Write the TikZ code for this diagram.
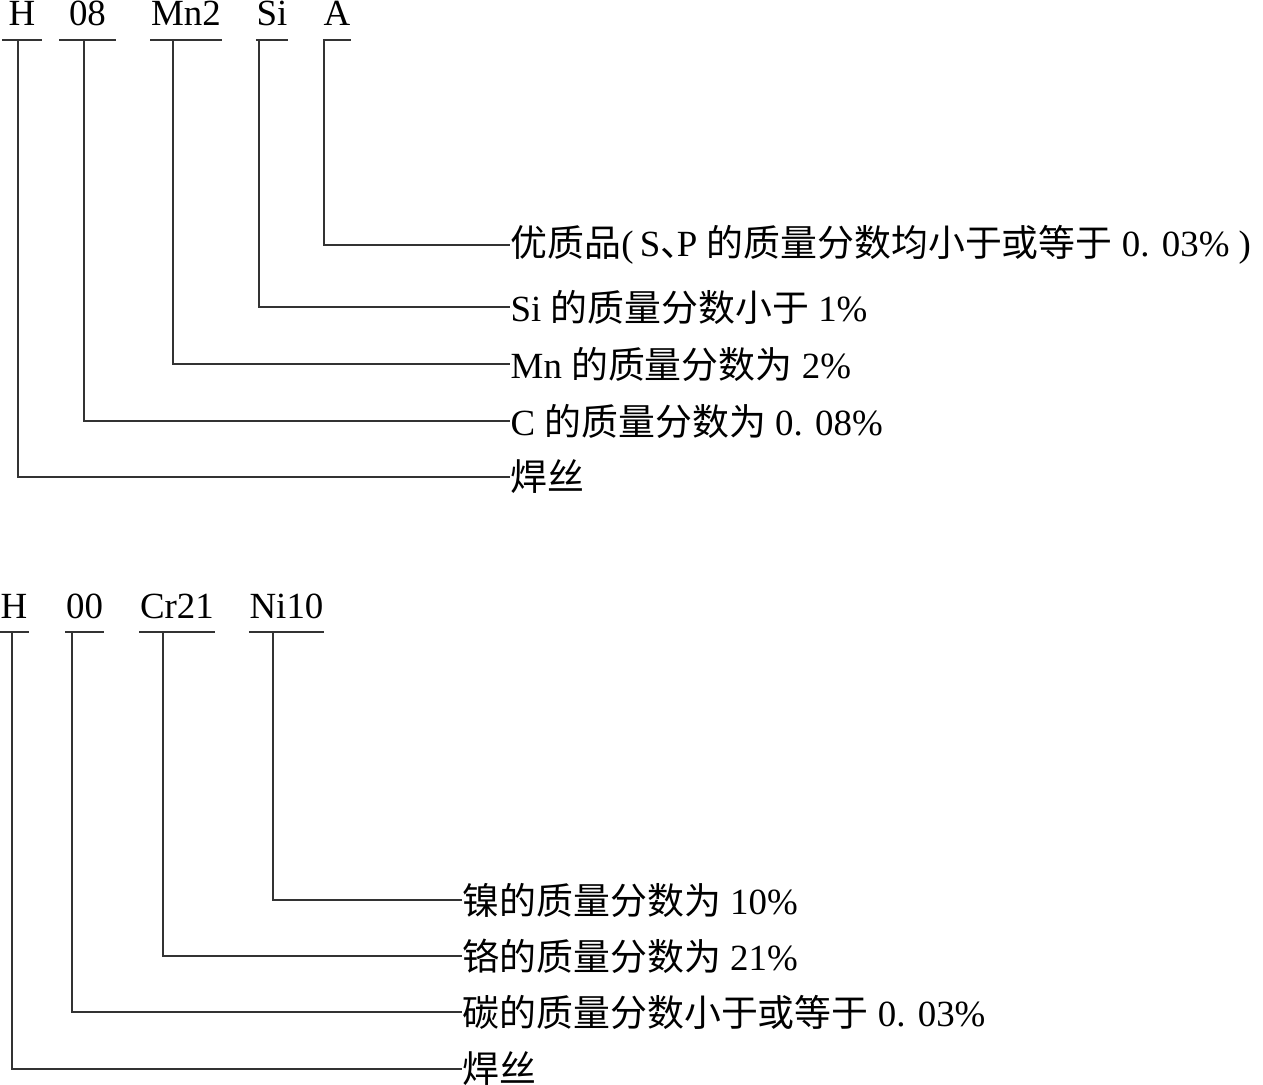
\documentclass[tikz,border=0pt]{standalone}
\usepackage{fontspec}
\setmainfont{Liberation Serif}
\newfontfamily\zh{Noto Sans CJK SC}
\begin{document}
\begin{tikzpicture}[every node/.style={font=\fontsize{10.5}{12}\selectfont, inner sep=0pt},
  code/.style={anchor=base},
  note/.style={anchor=west},
  lead/.style={draw=black!80, line width=0.6pt}]
  \useasboundingbox (0,0) rectangle (12.63,-10.85);

  % Wire H08Mn2SiA
  \node[code, minimum width=0.38cm] (tH)  at (0.22,-0.25) {H};
  \node[code, minimum width=0.55cm] (tC)  at (0.875,-0.25) {08};
  \node[code, minimum width=0.66cm] (tMn) at (1.86,-0.25) {Mn2};
  \node[code, minimum width=0.30cm] (tSi) at (2.72,-0.25) {Si};
  \node[code, minimum width=0.26cm] (tA)  at (3.37,-0.25) {A};
  \draw[lead] ([yshift=-1.5mm]tH.base west)  -- ([yshift=-1.5mm]tH.base east);
  \draw[lead] ([yshift=-1.5mm]tC.base west)  -- ([yshift=-1.5mm]tC.base east);
  \draw[lead] ([yshift=-1.5mm]tMn.base west) -- ([yshift=-1.5mm]tMn.base east);
  \draw[lead] ([yshift=-1.5mm]tSi.base west) -- ([yshift=-1.5mm]tSi.base east);
  \draw[lead] ([yshift=-1.5mm]tA.base west)  -- ([yshift=-1.5mm]tA.base east);

  \node[note] (nA)  at (5.10,-2.45)
    {{\zh 优质品}(\,S\makebox[0.45em][l]{\zh 、}P {\zh 的质量分数均小于或等于} 0. 03\%\ )};
  \node[note] (nSi) at (5.10,-3.07) {Si {\zh 的质量分数小于} 1\%};
  \node[note] (nMn) at (5.10,-3.64) {Mn {\zh 的质量分数为} 2\%};
  \node[note] (nC)  at (5.10,-4.21) {C {\zh 的质量分数为} 0. 08\%};
  \node[note] (nH)  at (5.10,-4.77) {\zh 焊丝};

  \coordinate (vA)  at (3.24,-0.40);
  \coordinate (vSi) at (2.59,-0.40);
  \coordinate (vMn) at (1.73,-0.40);
  \coordinate (vC)  at (0.84,-0.40);
  \coordinate (vH)  at (0.18,-0.40);
  \draw[lead] (vA)  |- (nA.west);
  \draw[lead] (vSi) |- (nSi.west);
  \draw[lead] (vMn) |- (nMn.west);
  \draw[lead] (vC)  |- (nC.west);
  \draw[lead] (vH)  |- (nH.west);

  % Wire H00Cr21Ni10
  \node[code, minimum width=0.28cm] (bH)  at (0.14,-6.18) {H};
  \node[code, minimum width=0.35cm] (bC)  at (0.845,-6.18) {00};
  \node[code, minimum width=0.72cm] (bCr) at (1.77,-6.18) {Cr21};
  \node[code, minimum width=0.73cm] (bNi) at (2.865,-6.18) {Ni10};
  \draw[lead] ([yshift=-1.4mm]bH.base west)  -- ([yshift=-1.4mm]bH.base east);
  \draw[lead] ([yshift=-1.4mm]bC.base west)  -- ([yshift=-1.4mm]bC.base east);
  \draw[lead] ([yshift=-1.4mm]bCr.base west) -- ([yshift=-1.4mm]bCr.base east);
  \draw[lead] ([yshift=-1.4mm]bNi.base west) -- ([yshift=-1.4mm]bNi.base east);

  \node[note] (mNi) at (4.62,-9.00) {{\zh 镍的质量分数为} 10\%};
  \node[note] (mCr) at (4.62,-9.56) {{\zh 铬的质量分数为} 21\%};
  \node[note] (mC)  at (4.62,-10.12) {{\zh 碳的质量分数小于或等于} 0. 03\%};
  \node[note] (mH)  at (4.62,-10.69) {\zh 焊丝};

  \coordinate (wNi) at (2.73,-6.32);
  \coordinate (wCr) at (1.63,-6.32);
  \coordinate (wC)  at (0.72,-6.32);
  \coordinate (wH)  at (0.12,-6.32);
  \draw[lead] (wNi) |- (mNi.west);
  \draw[lead] (wCr) |- (mCr.west);
  \draw[lead] (wC)  |- (mC.west);
  \draw[lead] (wH)  |- (mH.west);
\end{tikzpicture}
\end{document}
